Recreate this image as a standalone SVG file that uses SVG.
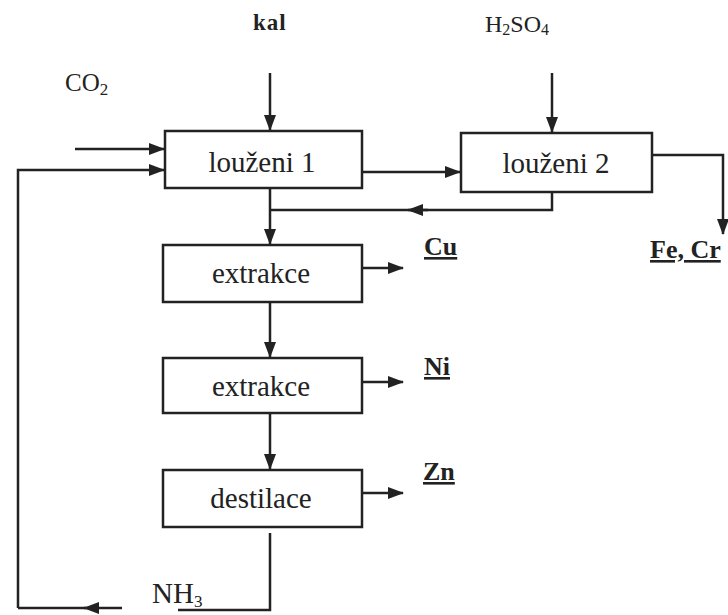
<svg xmlns="http://www.w3.org/2000/svg" width="728" height="615" viewBox="0 0 728 615">
<style>
.box{fill:#fff;stroke:#222;stroke-width:2.5}
.ln{fill:none;stroke:#222;stroke-width:2.5}
.t{font-family:"Liberation Serif",serif;fill:#222}
.bt{font-size:29px;text-anchor:middle}
.u{text-decoration:underline;font-weight:bold;font-size:26px}
</style>
<defs>
<marker id="b" markerWidth="16" markerHeight="12" refX="15" refY="6" orient="auto" markerUnits="userSpaceOnUse" viewBox="0 0 16 12">
<path d="M0,0 L16,6 L0,12 Z" fill="#222"/>
</marker>
</defs>
<rect width="728" height="615" fill="#fff"/>
<g id="connectors">
<path class="ln" d="M270,73 V130" marker-end="url(#b)"/>
<path class="ln" d="M552,73 V132" marker-end="url(#b)"/>
<path class="ln" d="M75,149 H164" marker-end="url(#b)"/>
<path class="ln" d="M18,608 V170 H164" marker-end="url(#b)"/>
<path class="ln" d="M362,172 H460" marker-end="url(#b)"/>
<path class="ln" d="M652,155 H723 V234" marker-end="url(#b)"/>
<path class="ln" d="M552,192 V210 H410"/>
<path class="ln" d="M428,210 H408" marker-end="url(#b)"/>
<path class="ln" d="M410,210 H270"/>
<path class="ln" d="M270,188 V244" marker-end="url(#b)"/>
<path class="ln" d="M362,268 H403" marker-end="url(#b)"/>
<path class="ln" d="M270,302 V357" marker-end="url(#b)"/>
<path class="ln" d="M362,382 H403" marker-end="url(#b)"/>
<path class="ln" d="M270,413 V469" marker-end="url(#b)"/>
<path class="ln" d="M362,493 H403" marker-end="url(#b)"/>
<path class="ln" d="M270,533 V610 H178"/>
<path class="ln" d="M122,608 H84" marker-end="url(#b)"/>
<path class="ln" d="M86,608 H18"/>
</g>
<g id="louzeni1"><rect class="box" x="165" y="131" width="197" height="57"/><text class="t bt" x="262" y="172">louženi 1</text></g>
<g id="louzeni2"><rect class="box" x="461" y="133" width="191" height="59"/><text class="t bt" x="556" y="173">louženi 2</text></g>
<g id="extrakce1"><rect class="box" x="163" y="245" width="199" height="57"/><text class="t bt" x="261" y="283">extrakce</text></g>
<g id="extrakce2"><rect class="box" x="163" y="358" width="199" height="55"/><text class="t bt" x="261" y="396">extrakce</text></g>
<g id="destilace"><rect class="box" x="163" y="470" width="199" height="57"/><text class="t bt" x="261" y="508">destilace</text></g>
<g id="labels">
<text class="t" x="253" y="30" font-size="23" font-weight="bold" letter-spacing="1">kal</text>
<text class="t" x="485" y="32" font-size="24">H<tspan font-size="16" dy="3">2</tspan><tspan dy="-3">SO</tspan><tspan font-size="16" dy="3">4</tspan></text>
<text class="t" x="65" y="91" font-size="25">CO<tspan font-size="17" dy="4">2</tspan></text>
<text class="t u" x="424" y="255">Cu</text>
<text class="t u" x="424" y="375">Ni</text>
<text class="t u" x="423" y="480">Zn</text>
<text class="t u" x="650" y="258" font-size="27">Fe, Cr</text>
<text class="t" x="152" y="603" font-size="29">NH<tspan font-size="17" dy="4">3</tspan></text>
</g>
</svg>
